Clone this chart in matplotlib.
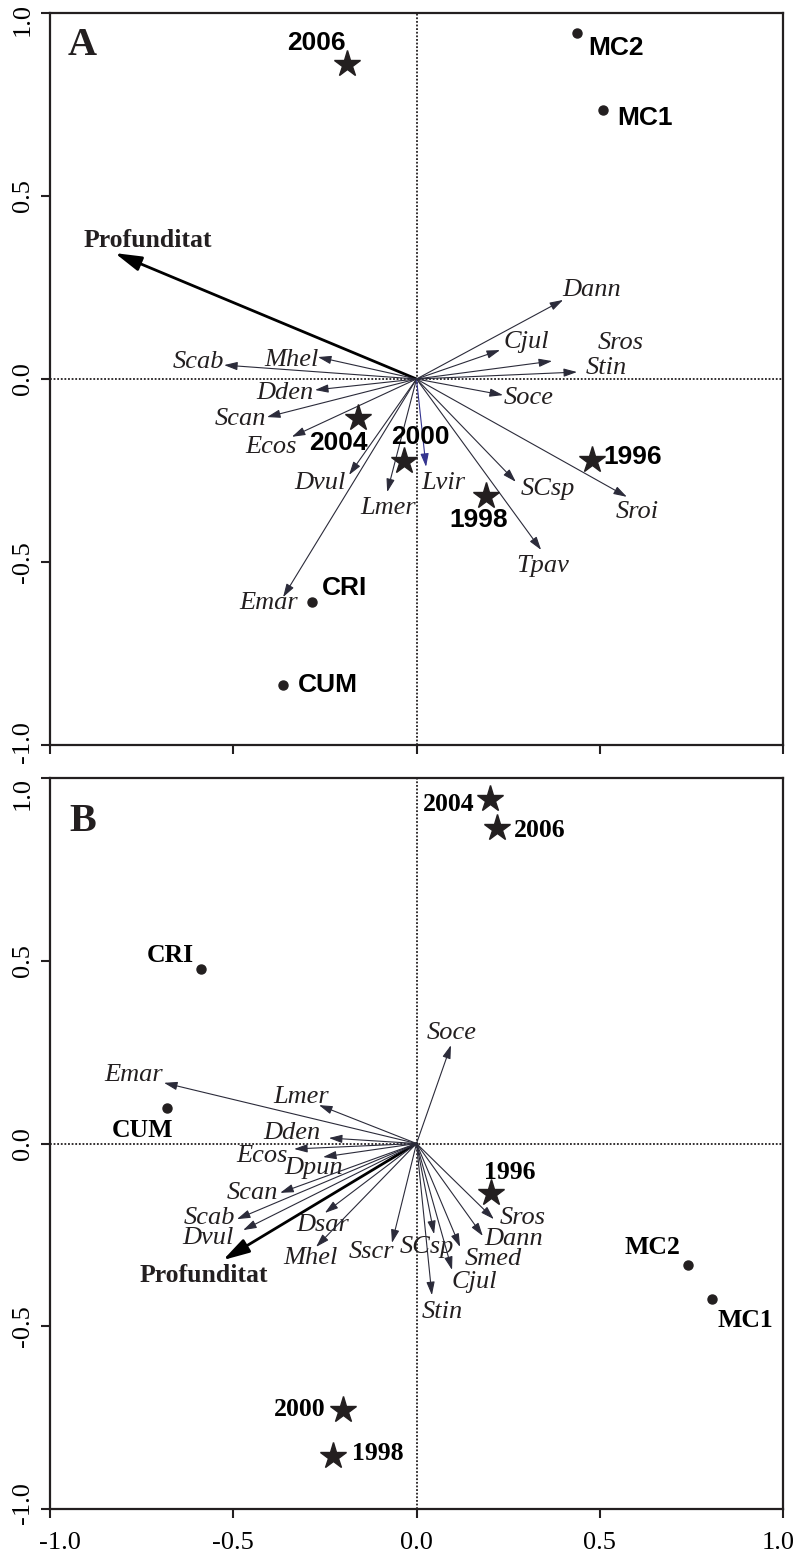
import matplotlib
matplotlib.use("Agg")
import matplotlib.pyplot as plt
from matplotlib.transforms import ScaledTranslation

plt.rcParams['font.family'] = ['Liberation Serif', 'DejaVu Serif']
plt.rcParams['axes.unicode_minus'] = False

INK = '#231f20'
LINE = '#2b2b3a'

# ---- panel A : species arrows
a_species = ['Profunditat', 'Scab', 'Mhel', 'Dden', 'Scan', 'Ecos', 'Dvul', 'Emar', 'Lmer',
             'Lvir', 'Cjul', 'Dann', 'Sros', 'Stin', 'Soce', 'SCsp', 'Sroi', 'Tpav']
a_sp_x = [-0.823, -0.525, -0.269, -0.277, -0.408, -0.340, -0.184, -0.364, -0.080,
          0.026, 0.228, 0.400, 0.370, 0.438, 0.236, 0.271, 0.574, 0.340]
a_sp_y = [0.344, 0.038, 0.060, -0.030, -0.104, -0.158, -0.262, -0.596, -0.309,
          -0.240, 0.079, 0.216, 0.049, 0.019, -0.044, -0.281, -0.322, -0.467]

# ---- panel A : samples (years / sites)
a_sites = ['2006', 'MC2', 'MC1', '2004', '2000', '1996', '1998', 'CRI', 'CUM']
a_site_x = [-0.190, 0.438, 0.509, -0.160, -0.034, 0.479, 0.190, -0.285, -0.364]
a_site_y = [0.861, 0.945, 0.735, -0.107, -0.224, -0.221, -0.320, -0.609, -0.836]

# ---- panel B : species arrows
b_species = ['Profunditat', 'Emar', 'Lmer', 'Dden', 'Ecos', 'Dpun', 'Scan', 'Scab', 'Dvul',
             'Dsar', 'Mhel', 'Sscr', 'SCsp', 'Cjul', 'Smed', 'Stin', 'Dann', 'Sros', 'Soce']
b_sp_x = [-0.528, -0.689, -0.266, -0.239, -0.334, -0.255, -0.372, -0.490, -0.473,
          -0.250, -0.274, -0.067, 0.048, 0.097, 0.119, 0.042, 0.181, 0.211, 0.094]
b_sp_y = [-0.319, 0.166, 0.105, 0.015, -0.015, -0.037, -0.135, -0.207, -0.237,
          -0.190, -0.283, -0.272, -0.248, -0.346, -0.283, -0.415, -0.253, -0.207, 0.269]

# ---- panel B : samples
b_sites = ['2004', '2006', 'CRI', 'CUM', '1996', 'MC2', 'MC1', '2000', '1998']
b_site_x = [0.201, 0.220, -0.588, -0.681, 0.203, 0.741, 0.807, -0.201, -0.228]
b_site_y = [0.943, 0.864, 0.477, 0.097, -0.135, -0.332, -0.426, -0.729, -0.856]

ticks = [-1.0, -0.5, 0.0, 0.5, 1.0]
tick_labels = ['-1.0', '-0.5', '0.0', '0.5', '1.0']

# label placement (pixel offsets from point / arrow tip)
a_sp_off = [(33, 13), (-26, 3), (-26, -3), (-30, -3), (-27, -2), (-21, -10), (-29, -8), (-14, -6),
            (1, -16), (17, -16), (26, 8), (29, 10), (69, 18), (29, 4), (26, -3), (32, -7),
            (10, -15), (2, -16)]
a_site_off = [(-30, 21), (39, -15), (42, -8), (-19, -25), (16, 24), (41, 3), (-7, -24), (32, 14), (45, 0)]
b_sp_off = [(-19, -15), (-30, 8), (-18, 8), (-37, 5), (-32, -7), (-9, -11), (-28, 0), (-27, 1),
            (-35, -8), (-2, -12), (-6, -11), (-21, -9), (-7, -13), (22, -12), (33, -12), (10, -17),
            (31, -3), (29, 1), (1, 12)]
b_site_off = [(-41, -6), (43, -3), (-31, 14), (-24, -22), (19, 20), (-36, 17), (33, -21), (-43, 0), (45, 3)]

# shifts (px) of the end tick labels, kept inside the frame as in the original
y_end_shift = {'A': (-7, 3), 'B': (-15, 6)}
x_end_shift = (10, -5)


def shift(label, dx, dy):
    label.set_transform(label.get_transform() +
                        ScaledTranslation(dx / 100, dy / 100, fig.dpi_scale_trans))


def setup_axes(ax, xlabels, key):
    ax.set_xlim(-1, 1)
    ax.set_ylim(-1, 1)
    for s in ax.spines.values():
        s.set_linewidth(1.6)
        s.set_color(INK)
    ax.axhline(0, color=INK, lw=1.3, ls=(0, (1, 1)), zorder=1)
    ax.axvline(0, color=INK, lw=1.3, ls=(0, (1, 1)), zorder=1)
    ax.set_xticks(ticks)
    ax.set_yticks(ticks)
    ax.set_yticklabels(tick_labels, rotation=90, va='center', fontsize=19)
    if xlabels:
        ax.set_xticklabels(tick_labels, fontsize=19)
    else:
        ax.set_xticklabels([])
    ax.tick_params(axis='both', direction='out', length=6.5, width=1.5, color=INK)
    ax.tick_params(axis='y', pad=5)
    ax.tick_params(axis='x', pad=10)
    ax.tick_params(top=False, right=False)
    yt = ax.yaxis.get_major_ticks()
    shift(yt[-1].label1, 0, y_end_shift[key][0])
    shift(yt[0].label1, 0, y_end_shift[key][1])
    if xlabels:
        xt = ax.xaxis.get_major_ticks()
        shift(xt[0].label1, x_end_shift[0], 0)
        shift(xt[-1].label1, x_end_shift[1], 0)


def draw_arrows(ax, names, xs, ys, offs):
    for name, x, y, off in zip(names, xs, ys, offs):
        if name == 'Profunditat':
            style = '-|>,head_length=1.6,head_width=0.45'
            lw, col = 2.0, 'black'
            font = dict(fontsize=18.5, fontweight='bold', fontstyle='normal')
        else:
            style = '-|>,head_length=0.8,head_width=0.25'
            lw, col = 0.8, LINE
            font = dict(fontsize=19, fontstyle='italic')
            if name == 'Lvir':
                col = '#34348f'
        ax.annotate('', xy=(x, y), xytext=(0, 0),
                    arrowprops=dict(arrowstyle=style, lw=lw, color=col,
                                    shrinkA=0, shrinkB=0), zorder=3)
        ax.annotate(name, xy=(x, y), xytext=off, textcoords='offset pixels',
                    ha='center', va='center', color=INK, **font)


def draw_sites(ax, names, xs, ys, offs, family, size):
    for name, x, y, off in zip(names, xs, ys, offs):
        if name.isdigit():
            ax.plot(x, y, marker='*', ms=20, color=INK, mec=INK, zorder=4)
        else:
            ax.plot(x, y, marker='o', ms=6.5, color=INK, zorder=4)
        ax.annotate(name, xy=(x, y), xytext=off, textcoords='offset pixels',
                    ha='center', va='center', color='black', fontsize=size,
                    fontweight='bold', family=family)


fig = plt.figure(figsize=(7.97, 15.58), dpi=100)
axA = fig.add_axes([50 / 797, 1 - 745 / 1558, 733 / 797, 732 / 1558])
axB = fig.add_axes([50 / 797, 1 - 1509 / 1558, 733 / 797, 731 / 1558])

setup_axes(axA, False, 'A')
setup_axes(axB, True, 'B')

draw_arrows(axA, a_species, a_sp_x, a_sp_y, a_sp_off)
draw_sites(axA, a_sites, a_site_x, a_site_y, a_site_off, ['Liberation Sans', 'DejaVu Sans'], 19)
draw_arrows(axB, b_species, b_sp_x, b_sp_y, b_sp_off)
draw_sites(axB, b_sites, b_site_x, b_site_y, b_site_off, ['Liberation Serif', 'DejaVu Serif'], 18.5)

axA.text(0.044, 0.956, 'A', transform=axA.transAxes, fontsize=29, fontweight='bold',
         ha='center', va='center', color=INK)
axB.text(0.045, 0.941, 'B', transform=axB.transAxes, fontsize=29, fontweight='bold',
         ha='center', va='center', color=INK)

fig.savefig('out.png', dpi=100)
